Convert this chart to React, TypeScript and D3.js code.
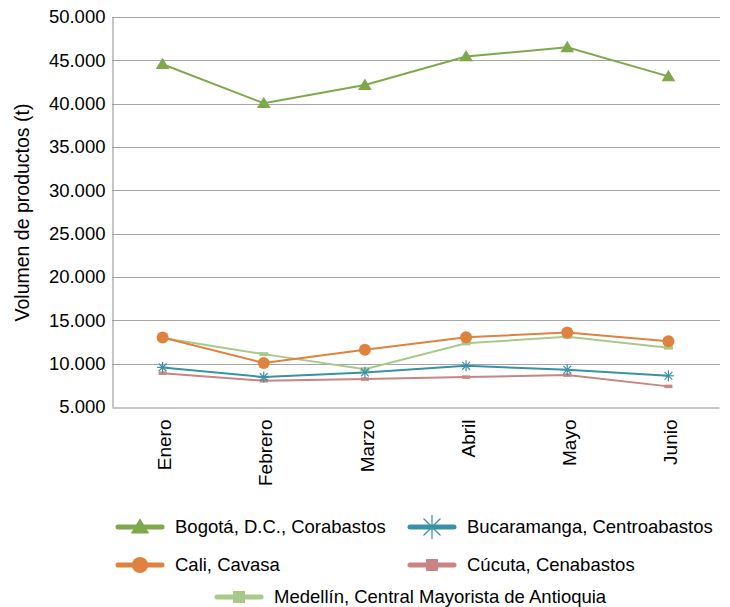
import React, { useEffect, useRef } from 'react';
import * as d3 from 'd3';

const WIDTH = 730;
const HEIGHT = 607;
const MARGIN = { top: 17, right: 10, bottom: 199, left: 112 };

const months = ['Enero', 'Febrero', 'Marzo', 'Abril', 'Mayo', 'Junio'];
const yTicks = [5000, 10000, 15000, 20000, 25000, 30000, 35000, 40000, 45000, 50000];

const bogota = [44550, 40050, 42150, 45450, 46500, 43150];
const cali = [13020, 10080, 11600, 13050, 13600, 12600];
const medellin = [12950, 11100, 9350, 12350, 13100, 11850];
const bucaramanga = [9570, 8450, 8990, 9750, 9300, 8600];
const cucuta = [8900, 8030, 8220, 8450, 8680, 7380];

type Series = { name: string; values: number[]; color: string; marker: string };

const series: Series[] = [
  { name: 'Bogotá, D.C., Corabastos', values: bogota, color: '#7fa84c', marker: 'triangle' },
  { name: 'Bucaramanga, Centroabastos', values: bucaramanga, color: '#3a90a9', marker: 'star' },
  { name: 'Cali, Cavasa', values: cali, color: '#e0823f', marker: 'circle' },
  { name: 'Cúcuta, Cenabastos', values: cucuta, color: '#c98484', marker: 'rect' },
  { name: 'Medellín, Central Mayorista de Antioquia', values: medellin, color: '#a8c98a', marker: 'dash' },
];

// draw order so the light lines sit under the stronger ones
const drawOrder = ['Medellín, Central Mayorista de Antioquia', 'Cúcuta, Cenabastos', 'Bucaramanga, Centroabastos', 'Cali, Cavasa', 'Bogotá, D.C., Corabastos'];

const FONT = 'Liberation Sans, Arial, sans-serif';
const FS = '18.5px';

function drawMarker(g: d3.Selection<SVGGElement, unknown, null, undefined>, kind: string, x: number, y: number, color: string, big: boolean) {
  const k = big ? 1.35 : 1;
  if (kind === 'triangle') {
    const s = 6.5 * k;
    g.append('path')
      .attr('d', `M${x},${y - s} L${x + s * 1.05},${y + s * 0.75} L${x - s * 1.05},${y + s * 0.75} Z`)
      .attr('fill', color);
  } else if (kind === 'circle') {
    g.append('circle').attr('cx', x).attr('cy', y).attr('r', 6 * k).attr('fill', color);
  } else if (kind === 'star') {
    const r = big ? 12 : 5.5;
    for (let i = 0; i < 4; i++) {
      const a = (i * Math.PI) / 4;
      g.append('line')
        .attr('x1', x - r * Math.sin(a)).attr('y1', y - r * Math.cos(a))
        .attr('x2', x + r * Math.sin(a)).attr('y2', y + r * Math.cos(a))
        .attr('stroke', color).attr('stroke-width', 1.2);
    }
  } else {
    const w = big ? 12 : kind === 'rect' ? 8 : 9;
    const h = big ? 12 : kind === 'rect' ? 3.5 : 4;
    g.append('rect').attr('x', x - w / 2).attr('y', y - h / 2).attr('width', w).attr('height', h).attr('fill', color);
  }
}

const App = () => {
  const ref = useRef<SVGSVGElement>(null);

  useEffect(() => {
    if (!ref.current) return;
    const svg = d3.select(ref.current);
    svg.selectAll('*').remove();

    const x = d3.scaleBand().domain(months).range([MARGIN.left, WIDTH - MARGIN.right - 1]);
    const y = d3.scaleLinear().domain([5000, 50000]).range([HEIGHT - MARGIN.bottom - 1, MARGIN.top]);
    const cx = (m: string) => x(m)! + x.bandwidth() / 2;

    // gridlines
    svg.append('g')
      .selectAll('line')
      .data(yTicks.slice(1))
      .enter()
      .append('line')
      .attr('x1', MARGIN.left).attr('x2', WIDTH - MARGIN.right)
      .attr('y1', (d) => Math.round(y(d)) + 0.5).attr('y2', (d) => Math.round(y(d)) + 0.5)
      .attr('stroke', '#a6a6a6').attr('stroke-width', 1);

    // y axis
    const yAxis = d3.axisLeft(y).tickValues(yTicks).tickSize(0).tickPadding(7)
      .tickFormat((d) => d3.format(',')(d as number).replace(/,/g, '.'));
    const yg = svg.append('g').attr('transform', `translate(${MARGIN.left + 0.5},0)`).call(yAxis);
    yg.select('.domain').attr('stroke', '#8c8c8c');
    yg.selectAll('.tick text').attr('fill', '#000').style('font-family', FONT).style('font-size', FS);

    // x axis
    const xAxis = d3.axisBottom(x).tickSize(0);
    const xg = svg.append('g').attr('transform', `translate(0,${Math.round(y(5000)) + 0.5})`).call(xAxis);
    xg.select('.domain').attr('stroke', '#8c8c8c');
    xg.selectAll('.tick text')
      .attr('fill', '#000')
      .style('font-family', FONT)
      .style('font-size', '19px')
      .attr('transform', 'rotate(-90)')
      .attr('text-anchor', 'end')
      .attr('x', -12)
      .attr('y', 2)
      .attr('dy', '0.35em');

    // y title
    svg.append('text')
      .attr('transform', `translate(29,${(MARGIN.top + HEIGHT - MARGIN.bottom) / 2}) rotate(-90)`)
      .attr('text-anchor', 'middle')
      .style('font-family', FONT)
      .style('font-size', '19.5px')
      .text('Volumen de productos (t)');

    // lines
    const line = d3.line<number>().x((_, i) => cx(months[i])).y((d) => y(d));
    drawOrder.forEach((name) => {
      const s = series.find((d) => d.name === name)!;
      const g = svg.append('g');
      g.append('path').attr('d', line(s.values)).attr('fill', 'none').attr('stroke', s.color).attr('stroke-width', 2);
      s.values.forEach((v, i) => drawMarker(g, s.marker, cx(months[i]), y(v), s.color, false));
    });

    // legend
    const legendPos = [
      { x: 118, y: 527 },
      { x: 410, y: 527 },
      { x: 118, y: 565 },
      { x: 410, y: 565 },
      { x: 217, y: 597 },
    ];
    series.forEach((s, i) => {
      const p = legendPos[i];
      const g = svg.append('g');
      g.append('line')
        .attr('x1', p.x).attr('x2', p.x + 44).attr('y1', p.y).attr('y2', p.y)
        .attr('stroke', s.color).attr('stroke-width', 5).attr('stroke-linecap', 'round');
      drawMarker(g, s.marker, p.x + 22, p.y, s.color, true);
      g.append('text')
        .attr('x', p.x + 57).attr('y', p.y).attr('dy', '0.35em')
        .style('font-family', FONT).style('font-size', FS)
        .text(s.name);
    });
  }, []);

  return <svg ref={ref} width={WIDTH} height={HEIGHT} style={{ position: 'absolute', left: 0, top: 0 }} />;
};

export default App;
